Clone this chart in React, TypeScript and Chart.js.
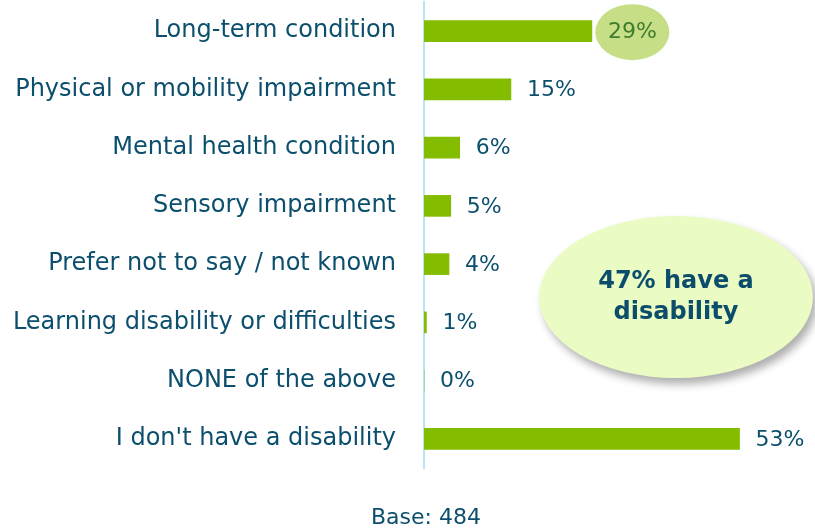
import React, { useEffect, useRef } from "react";
import { Chart, registerables } from "chart.js";

Chart.register(...registerables);

const categories = [
  "Long-term condition",
  "Physical or mobility impairment",
  "Mental health condition",
  "Sensory impairment",
  "Prefer not to say / not known",
  "Learning disability or difficulties",
  "NONE of the above",
  "I don't have a disability",
];
const values = [28.2, 14.6, 6.0, 4.5, 4.2, 0.4, 0, 53.0];
const valueLabels = ["29%", "15%", "6%", "5%", "4%", "1%", "0%", "53%"];
const calloutLines = ["47% have a", "disability"];
const baseText = "Base: 484";

const FONT = "'DejaVu Sans', sans-serif";
const TEXT = "#0c4f6d";
const BAR = "#84bd00";

const annotationPlugin = {
  id: "annotations",
  afterDatasetsDraw(chart: any) {
    const { ctx, chartArea } = chart;
    const meta = chart.getDatasetMeta(0);
    ctx.save();
    ctx.textBaseline = "middle";
    ctx.textAlign = "left";
    meta.data.forEach((bar: any, i: number) => {
      const x = bar.x + 16;
      const y = bar.y + 1;
      ctx.font = `22px ${FONT}`;
      if (i === 0) {
        const w = ctx.measureText(valueLabels[i]).width;
        ctx.fillStyle = "#c6df86";
        ctx.beginPath();
        ctx.ellipse(x + w / 2, y, 37, 28, 0, 0, Math.PI * 2);
        ctx.fill();
        ctx.fillStyle = "#3f7c2e";
      } else {
        ctx.fillStyle = TEXT;
      }
      ctx.fillText(valueLabels[i], x, y);
    });

    // callout
    const cx = 676, cy = 297, rx = 137, ry = 81;
    ctx.save();
    ctx.shadowColor = "rgba(0,0,0,0.32)";
    ctx.shadowBlur = 9;
    ctx.shadowOffsetX = 4;
    ctx.shadowOffsetY = 6;
    ctx.fillStyle = "#ebfbc4";
    ctx.beginPath();
    ctx.ellipse(cx, cy, rx, ry, 0, 0, Math.PI * 2);
    ctx.fill();
    ctx.restore();
    ctx.fillStyle = "#0b4d6b";
    ctx.textAlign = "center";
    ctx.font = `bold 24px ${FONT}`;
    ctx.fillText(calloutLines[0], cx, cy - 15);
    ctx.fillText(calloutLines[1], cx, cy + 16);

    // base
    ctx.font = `22px ${FONT}`;
    ctx.fillStyle = TEXT;
    ctx.fillText(baseText, chartArea.left + 2, 518);
    ctx.restore();
  },
};

export default function App() {
  const ref = useRef<HTMLCanvasElement>(null);
  useEffect(() => {
    if (!ref.current) return;
    const chart = new Chart(ref.current, {
      type: "bar",
      data: {
        labels: categories,
        datasets: [
          {
            data: values,
            backgroundColor: BAR,
            borderWidth: 0,
            barThickness: 21,
          },
        ],
      },
      options: {
        indexAxis: "y",
        responsive: false,
        animation: false,
        devicePixelRatio: 1,
        layout: { padding: { top: 2, bottom: 61, right: 4, left: 0 } },
        plugins: {
          legend: { display: false },
          tooltip: { enabled: false },
          title: { display: false },
        },
        scales: {
          x: {
            display: false,
            min: 0,
            max: 65,
          },
          y: {
            grid: { display: false, drawTicks: false },
            border: { display: true, color: "#b9e3f7", width: 2 },
            ticks: {
              color: TEXT,
              font: { family: FONT, size: 24 },
              padding: 28,
            },
            afterFit(scale: any) {
              scale.width = 424;
              scale.paddingTop = 0;
              scale.paddingBottom = 0;
            },
          },
        },
      },
      plugins: [annotationPlugin],
    });
    return () => chart.destroy();
  }, []);
  return (
    <div style={{ position: "absolute", left: 0, top: 0, width: 815, height: 529, background: "#fff" }}>
      <canvas ref={ref} width={815} height={529} />
    </div>
  );
}
